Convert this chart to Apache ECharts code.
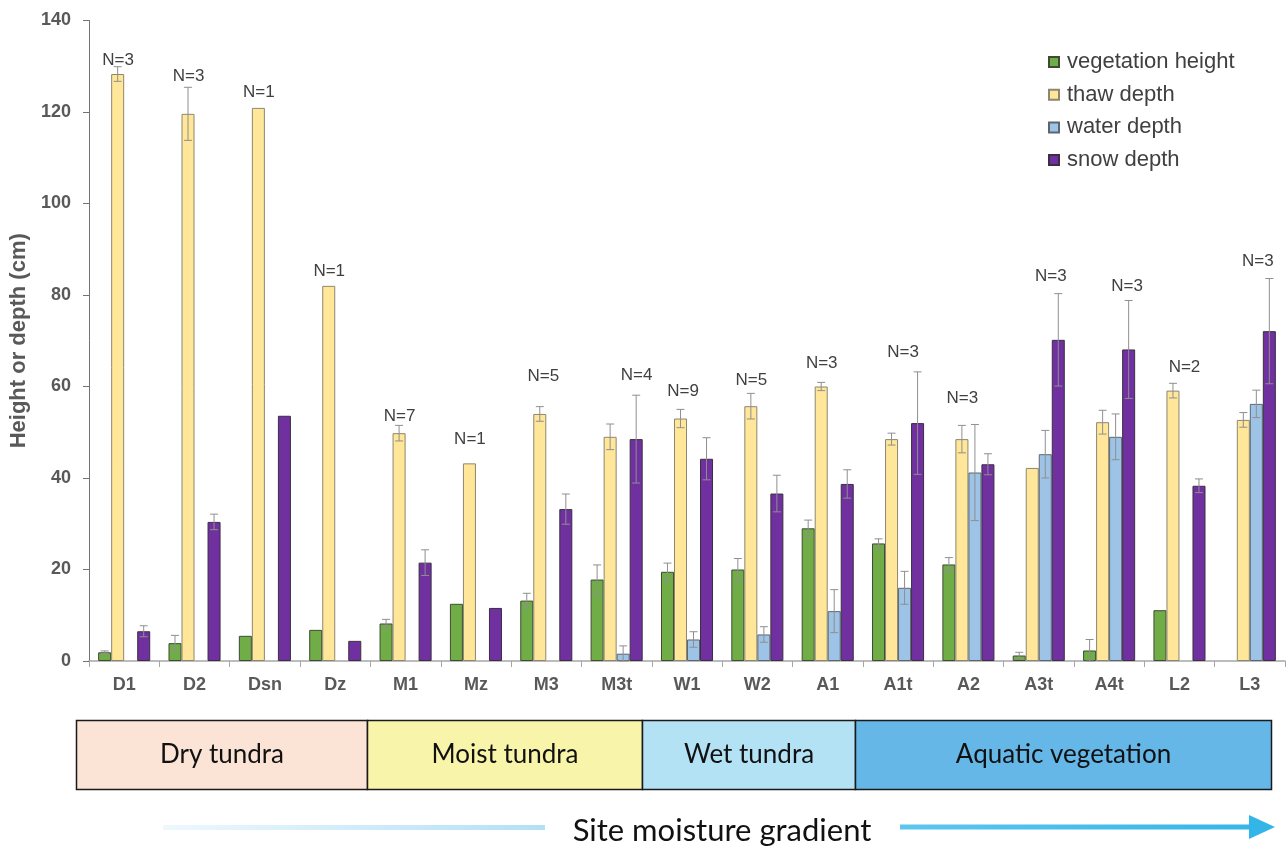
<!DOCTYPE html>
<html>
<head>
<meta charset="utf-8">
<title>Tundra site vegetation, thaw, water and snow depth</title>
<script src="https://cdn.jsdelivr.net/npm/echarts@6/dist/echarts.min.js"></script>
<style>
  html, body { margin: 0; padding: 0; background: #ffffff; }
  #chart { width: 1286px; height: 846px; }
</style>
</head>
<body>
<div id="chart"></div>
<script>
// Sites, ordered from dry to aquatic
const sites = ['D1', 'D2', 'Dsn', 'Dz', 'M1', 'Mz', 'M3', 'M3t', 'W1', 'W2', 'A1', 'A1t', 'A2', 'A3t', 'A4t', 'L2', 'L3'];

// Mean values (cm); null where a quantity was not measured
const vegHeight  = [1.9, 3.9, 5.5, 6.8, 8.2, 12.5, 13.2, 17.8, 19.5, 20.0, 29.0, 25.7, 21.1, 1.2, 2.3, 11.1, null];
const thawDepth  = [128.3, 119.6, 120.9, 82.0, 49.8, 43.2, 54.0, 49.0, 53.0, 55.7, 60.0, 48.5, 48.5, 42.2, 52.2, 59.1, 52.7];
const waterDepth = [null, null, null, null, null, null, null, 1.6, 4.7, 5.8, 10.9, 16.0, 41.2, 45.2, 49.0, null, 56.2];
const snowDepth  = [6.5, 30.4, 53.6, 4.4, 21.5, 11.6, 33.2, 48.5, 44.2, 36.6, 38.7, 52.0, 43.0, 70.2, 68.1, 38.3, 72.1];

// Standard errors (cm)
const vegErr   = [0.3, 1.7, 0, 0, 0.9, 0, 1.6, 3.2, 1.9, 2.4, 1.8, 1.0, 1.5, 0.7, 2.4, 0, null];
const thawErr  = [1.6, 5.8, 0, 0, 1.7, 0, 1.6, 2.8, 2.0, 2.8, 0.9, 1.3, 3.0, 0, 2.6, 1.6, 1.6];
const waterErr = [null, null, null, null, null, null, null, 1.7, 1.7, 1.7, 4.7, 3.6, 10.5, 5.2, 5.0, null, 3.0];
const snowErr  = [1.2, 1.7, 0, 0, 2.8, 0, 3.3, 9.6, 4.6, 4.0, 3.1, 11.2, 2.3, 10.1, 10.7, 1.5, 11.5];

// Number of samples per site and the height (cm) at which each count is written
const sampleN    = [3, 3, 1, 1, 7, 1, 5, 4, 9, 5, 3, 3, 3, 3, 3, 2, 3];
const nLabelAt   = [131.4, 127.7, 124.4, 85.2, 53.4, 48.5, 62.3, 62.5, 59.0, 61.4, 65.0, 67.4, 57.5, 84.1, 82.0, 64.3, 87.3];

// Y axis ticks
const yTicks = { min: 0, max: 140, step: 20 };

// Moisture classes shown under the axis
const classNames = ['Dry tundra', 'Moist tundra', 'Wet tundra', 'Aquatic vegetation'];

// ---- layout / style ----
const BAR_GAP = 0.26;
const nLabelShift = [-6, -6, -6, -6, -6, -6, -3, 20, -4, -6, -6, 5, -6, 12, 18, 5, 8];
const classBoxes = [
  { x0: 76.5, x1: 367.5, fill: '#FBE3D6' },
  { x0: 367.5, x1: 642.5, fill: '#F8F5AA' },
  { x0: 642.5, x1: 855.5, fill: '#B3E2F5' },
  { x0: 855.5, x1: 1271.5, fill: '#65B7E8' }
];

const seriesDefs = [
  { name: 'vegetation height', values: vegHeight, errs: vegErr, color: '#70AD47', border: '#3f4a36' },
  { name: 'thaw depth', values: thawDepth, errs: thawErr, color: '#FFE699', border: '#8c8770' },
  { name: 'water depth', values: waterDepth, errs: waterErr, color: '#9DC3E6', border: '#5d6670' },
  { name: 'snow depth', values: snowDepth, errs: snowErr, color: '#7030A0', border: '#3a3040' }
];

function errorRenderer(k) {
  return function (params, api) {
    const i = api.value(0), m = api.value(1), e = api.value(2);
    if (!(e > 0)) return null;
    const band = api.size([1, 0])[0];
    const bw = band * (1 - BAR_GAP) / 4;
    const cx = api.coord([i, 0])[0] + (k - 1.5) * bw;
    const yt = api.coord([i, m + e])[1];
    const yb = api.coord([i, Math.max(0, m - e)])[1];
    const cap = 4;
    const st = { stroke: '#8f8f8f', lineWidth: 1 };
    return {
      type: 'group',
      children: [
        { type: 'line', shape: { x1: cx, y1: yt, x2: cx, y2: yb }, style: st },
        { type: 'line', shape: { x1: cx - cap, y1: yt, x2: cx + cap, y2: yt }, style: st },
        { type: 'line', shape: { x1: cx - cap, y1: yb, x2: cx + cap, y2: yb }, style: st }
      ]
    };
  };
}

const series = [];
seriesDefs.forEach(function (d) {
  series.push({
    name: d.name,
    type: 'bar',
    data: d.values,
    barGap: '0%',
    barCategoryGap: (BAR_GAP * 100) + '%',
    itemStyle: { color: d.color, borderColor: d.border, borderWidth: 1 },
    emphasis: { disabled: true },
    z: 2
  });
});
seriesDefs.forEach(function (d, k) {
  const pts = [];
  d.values.forEach(function (v, i) {
    if (v != null && d.errs[i] != null) pts.push([i, v, d.errs[i]]);
  });
  series.push({
    type: 'custom',
    renderItem: errorRenderer(k),
    data: pts,
    encode: { x: 0, y: 1 },
    silent: true,
    z: 5
  });
});
series.push({
  type: 'custom',
  data: sampleN.map(function (n, i) { return [i, nLabelAt[i], n]; }),
  encode: { x: 0, y: 1 },
  silent: true,
  z: 6,
  renderItem: function (params, api) {
    const i = api.value(0);
    const p = api.coord([i, api.value(1)]);
    return {
      type: 'text',
      x: p[0] + nLabelShift[i],
      y: p[1],
      style: {
        text: 'N=' + api.value(2),
        font: '17px "Liberation Sans", Arial, sans-serif',
        fill: '#404040',
        textAlign: 'center',
        textVerticalAlign: 'middle'
      }
    };
  }
});

// Moisture class strip and gradient arrow
const graphics = [];
classBoxes.forEach(function (b, i) {
  graphics.push({
    type: 'rect',
    shape: { x: b.x0, y: 720.5, width: b.x1 - b.x0, height: 69 },
    style: { fill: b.fill, stroke: '#1a1a1a', lineWidth: 1.5 },
    z: 1
  });
  graphics.push({
    type: 'text',
    x: (b.x0 + b.x1) / 2,
    y: 755,
    style: {
      text: classNames[i],
      font: '26px Lato, "Open Sans", sans-serif',
      fill: '#111111',
      textAlign: 'center',
      textVerticalAlign: 'middle'
    },
    z: 2
  });
});
graphics.push({
  type: 'rect',
  shape: { x: 163, y: 825, width: 382, height: 5 },
  style: {
    fill: new echarts.graphic.LinearGradient(0, 0, 1, 0, [
      { offset: 0, color: '#eef8fd' },
      { offset: 1, color: '#b3e0f6' }
    ])
  }
});
graphics.push({
  type: 'rect',
  shape: { x: 900, y: 824.5, width: 352, height: 5 },
  style: {
    fill: new echarts.graphic.LinearGradient(0, 0, 1, 0, [
      { offset: 0, color: '#5cc6ee' },
      { offset: 1, color: '#36b6e8' }
    ])
  }
});
graphics.push({
  type: 'polygon',
  shape: { points: [[1249, 815], [1275, 827], [1249, 839]] },
  style: { fill: '#34b5e8' }
});
graphics.push({
  type: 'text',
  x: 722,
  y: 831,
  style: {
    text: 'Site moisture gradient',
    font: '31px Lato, "Open Sans", sans-serif',
    fill: '#111111',
    textAlign: 'center',
    textVerticalAlign: 'middle'
  }
});

const chart = echarts.init(document.getElementById('chart'), null, { renderer: 'canvas' });
chart.setOption({
  animation: false,
  backgroundColor: '#ffffff',
  grid: { left: 89, right: 1, top: 20.5, bottom: 185, containLabel: false },
  legend: {
    orient: 'vertical',
    left: 1048,
    top: 51,
    padding: 0,
    itemWidth: 10,
    itemHeight: 10,
    itemGap: 10.7,
    icon: 'rect',
    data: seriesDefs.map(function (d) { return d.name; }),
    textStyle: { fontFamily: '"Liberation Sans", Arial, sans-serif', fontSize: 22, color: '#404040', lineHeight: 22, padding: [0, 0, 0, 3] },
    selectedMode: false
  },
  xAxis: {
    type: 'category',
    data: sites,
    axisLine: { show: true, lineStyle: { color: '#a6a6a6', width: 1.5 } },
    axisTick: { show: true, interval: 0, length: 6, lineStyle: { color: '#a6a6a6' } },
    axisLabel: {
      interval: 0,
      margin: 15,
      fontFamily: '"Liberation Sans", Arial, sans-serif',
      fontWeight: 'bold',
      fontSize: 18,
      color: '#595959'
    },
    splitLine: { show: false }
  },
  yAxis: {
    type: 'value',
    min: yTicks.min,
    max: yTicks.max,
    interval: yTicks.step,
    name: 'Height or depth (cm)',
    nameLocation: 'middle',
    nameGap: 48,
    nameTextStyle: {
      fontFamily: '"Liberation Sans", Arial, sans-serif',
      fontWeight: 'bold',
      fontSize: 22,
      color: '#595959'
    },
    axisLine: { show: true, lineStyle: { color: '#737373', width: 1 } },
    axisTick: { show: true, inside: false, length: 6, lineStyle: { color: '#737373' } },
    axisLabel: {
      margin: 18,
      fontFamily: '"Liberation Sans", Arial, sans-serif',
      fontWeight: 'bold',
      fontSize: 18,
      color: '#595959'
    },
    splitLine: { show: false }
  },
  graphic: graphics,
  series: series
});
</script>
</body>
</html>
